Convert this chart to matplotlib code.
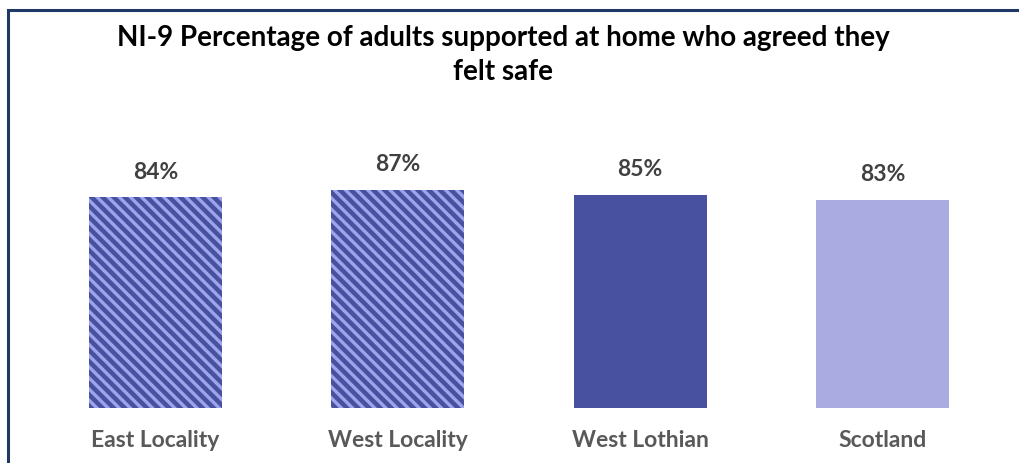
import numpy as np
import matplotlib.pyplot as plt
from matplotlib.patches import Rectangle

plt.rcParams['font.family'] = ['Lato', 'DejaVu Sans']
plt.rcParams['hatch.linewidth'] = 2.4

# data
categories = ['East Locality', 'West Locality', 'West Lothian', 'Scotland']
values = [84, 87, 85, 83]
labels = ['84%', '87%', '85%', '83%']

dark = '#47519F'
stripe = '#9EA4EC'
light = '#A9ABE1'

fig = plt.figure(figsize=(10.19, 4.63), dpi=100)

# frame round the chart
fig.patches.append(Rectangle((8/1019, -0.05), 1.1, (463-10)/463 + 0.05,
                             transform=fig.transFigure, fill=False,
                             edgecolor='#1F3864', linewidth=2.2))

ax = fig.add_axes([34/1019, 55/463, 970/1019, 251/463])
x = np.arange(len(categories))
w = 0.55

bars = ax.bar(x, values, width=w, color=[dark, dark, dark, light], linewidth=0)
for b in bars[:2]:
    b.set_hatch('\\\\\\')
    b.set_edgecolor(stripe)
    b.set_linewidth(0)

for xi, v, lab in zip(x, values, labels):
    ax.annotate(lab, (xi, v), xytext=(0, 18), textcoords='offset points',
                ha='center', va='center', fontsize=16.5, fontweight='bold',
                color='#404040')

ax.set_xlim(-0.5, 3.5)
ax.set_ylim(0, 100)
ax.set_xticks(x)
ax.set_xticklabels(categories, fontsize=16.5, fontweight='bold', color='#595959')
ax.tick_params(axis='x', length=0, pad=16)
ax.set_yticks([])
for s in ax.spines.values():
    s.set_visible(False)

fig.text(503/1019, 1 - 38/463,
         'NI-9 Percentage of adults supported at home who agreed they',
         ha='center', va='center', fontsize=20, fontweight='bold', color='black')
fig.text(503/1019, 1 - 72/463, 'felt safe',
         ha='center', va='center', fontsize=20, fontweight='bold', color='black')

fig.savefig('out.png', dpi=100)
